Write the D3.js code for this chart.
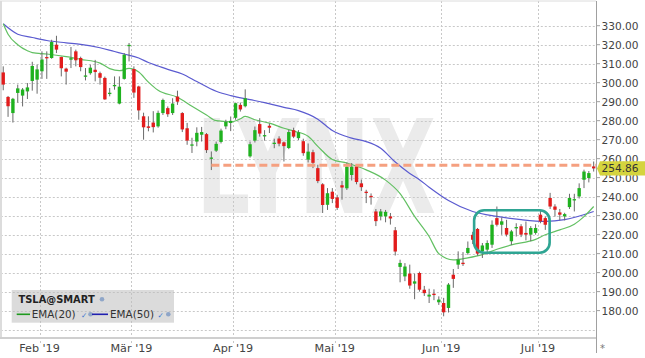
<!DOCTYPE html>
<html><head><meta charset="utf-8">
<script src="https://cdn.jsdelivr.net/npm/d3@7"></script>
<style>body{margin:0;background:#fff;} svg{display:block;font-family:"DejaVu Sans",Verdana,sans-serif;}</style>
</head><body>
<svg id="c" width="645" height="358"></svg>
<script>
// ---- data ----
const opens  = [305.4,292.5,284,294.6,293.2,295.4,300.9,301.6,306,313.5,313,320,313.5,307.4,312.1,316.5,313,303.3,305,306.8,305,302.5,294.2,298.2,289,302,319.3,307.2,298,282.3,277,279,277,284,286.6,284,292.7,284,276,267.1,269,272.6,272.9,260.1,264.2,268.8,277,278.8,281.5,288.3,287.6,261.2,269.5,278.2,271.8,277.3,267.9,270.6,268.6,265.6,275,270.8,269.2,259.5,263.4,255,246.5,235.7,242.6,239.6,246,244.4,251.4,255.9,247,242.6,240.4,232.2,229.6,229.6,229.6,222.3,203,198,199.5,194.2,199.8,191,187.4,188.9,184.4,184,181.4,198.9,204.2,205.2,210.3,219.9,223,211.2,212.1,214.7,228.7,225.2,223.5,216.5,223.3,224.4,220.9,220,220.9,230.5,228.7,239.3,234.8,231.7,229.6,234.5,238,240.1,248.9,249.8,255.9];
const highs  = [308.6,293,292,299,297.2,299.8,311,309.5,316.5,316.5,322.6,324.7,313.7,307.9,318.8,317.4,313.7,307.7,309.5,312,305.8,303.2,297.2,303.3,303.3,315.6,320.9,308.6,298.4,284.2,282.3,285,285.3,291.6,287.5,291.8,295.8,284.5,278.8,271,276.5,276.7,273.5,263.8,269,275.8,280.5,282.2,289.5,289.5,296.5,269,276.9,281.3,275,278.5,270.5,271.8,269,275.2,276.3,275,270.5,268,264.7,256.8,247.1,244.5,244.5,241,248.3,258,257.7,257,249,243.6,241.7,233.5,233.5,233,231.4,224,206.8,205,204.2,199.5,200.5,193,191.5,191.2,187.5,186.7,194.5,201.9,211.2,210.8,216.4,221.5,223.5,215.6,217,227.5,234.8,229,227.8,222.5,226,225.5,226.9,224.5,225.5,233.1,229.5,242,236,233.5,231.5,241.5,241.5,247,254.2,253.5,258.5];
const lows   = [296,282,279,289.5,287.5,291.4,295.8,294.2,302,302,312.6,315.6,303.3,299,307.7,308.6,306,301.2,304.2,300.7,299,291,292.8,296.3,288.6,301.6,311.2,292,280.5,270,274.4,273.8,276.3,283,282,283,288.3,274,267.3,263,266.5,269,263,254,263.5,268,275.5,274.5,280.5,284.8,287,260.5,268.5,271.6,269.5,273.5,265.5,266.5,258.5,265,270.8,269.8,261.5,258,255,247.1,231.4,233,236.6,233,238.4,243.5,248.5,246.5,243,236.6,235.8,224.5,227.5,226.5,225.3,209,194.9,195.5,191.5,186,190,187.7,184,185.5,183,177,179,192,201.9,203.5,209.4,215,208.9,207.7,209.5,213,224.3,219.9,219,214.5,219,218.7,217,216.5,220,226,222.5,233.5,229.5,227.5,227.5,233.5,232.2,239,244.5,247.5,253.2];
const closes = [299,287.6,291.5,297,296.4,297.5,308.8,307,312.2,312.9,321.4,317.4,307.6,305.8,312.9,311.8,308.2,303.8,307.9,305.6,302.6,291.2,294.7,298.8,297.9,314.7,319.9,294.8,285.4,276.5,276.2,276.6,284.1,290.9,283.4,289,290,275.4,269.5,267.5,273.6,274,264.5,260.6,267.8,274.8,279.3,279.9,289.2,285.9,291.8,267.6,275,273.2,272.4,276.3,268.4,267.9,266.6,274,271.6,273.9,262.9,263.7,257.8,248.2,235.6,241.8,238.8,234.1,244.8,255.8,255.8,247.7,245,241.9,239.7,227.1,232.2,232,228.5,211.1,205.1,203.2,193.2,195.4,191,189.2,188.4,188.2,185.8,179.1,193.7,196.7,206.8,204.5,213,217.3,210,214.3,215.6,225.2,225.2,227,220,221.7,224,220,220,223.5,223.5,227,225.2,234.8,233.1,230.5,230.8,239.3,238.7,244.5,253.2,252.4,254.86];

const ema20Idx = [0,1,3,5,6,9,13,16,20,22,24,26,28,30,32,36,39,42,44,47,49,50,52,55,58,60,63,65,68,71,75,79,82,85,88,90,93,96,99,102,105,110,112,115,118,120,122];
const ema20    = [331,325.5,320,316.8,315.8,315.1,313.7,312.3,310.3,307.4,306.3,307.5,305.6,300.3,296,292.3,287.6,283,280,279.4,281,282.3,280.5,278.7,276,274.5,271.8,266.5,259.6,257.7,254.1,248.7,241.6,229.6,219,210,206.7,207.8,209.5,212.3,214.6,217.5,219.9,222.5,225.5,229.5,234.8];
const ema50Idx = [0,3,6,9,13,16,20,23,25,28,30,32,34,37,40,44,47,51,54,58,61,65,68,72,75,78,81,84,86,88,92,97,102,107,112,116,122];
const ema50    = [331,325.5,323.8,322.2,321,320.2,318.4,316.4,315.1,313,310.6,308.8,307,304.6,300.6,295.5,293.2,291.1,289.5,287,285.3,280.8,274.8,270.8,269,265.5,258.2,252.2,248.9,245,238,232.2,229.6,227.9,227,227.9,232.2];

const monthIdx    = [8,27,48,69,91,111];
const monthLabels = ["Feb '19","Mär '19","Apr '19","Mai '19","Jun '19","Jul '19"];
const priceTicks  = [180,190,200,210,220,230,240,250,260,270,280,290,300,310,320,330];
const gridPrices  = [170,180,190,200,210,220,230,240,250,260,270,280,290,300,310,320,330];
const lastPrice = 254.86;
const resistance = 256.5;
const resistanceStart = 43;
const boxRange = [97.3, 112.9];   // candle index span of the consolidation box
const boxPrice = [210.5, 232.8];
const symbol = "TSLA@SMART";
const legendItems = ["EMA(20)","EMA(50)"];

// ---- chart ----
const svg = d3.select('#c');
const L = 0.8, R = 596.1, T = 1, B = 338;
const x = d3.scaleLinear().domain([-0.5,122.5]).range([L,R]);
const y = d3.scaleLinear().domain([170,330]).range([329.6,25.7]);
const step = x(1)-x(0);

const defs = svg.append('defs');
const f = defs.append('filter').attr('id','blur').attr('x','-10%').attr('y','-200%').attr('width','120%').attr('height','500%');
f.append('feGaussianBlur').attr('stdDeviation',1.3);

// watermark
svg.append('text').attr('x',196).attr('y',213).text('LYNX')
  .attr('font-family','DejaVu Sans').attr('font-weight','bold').attr('font-size',130)
  .attr('textLength',240).attr('lengthAdjust','spacingAndGlyphs').attr('fill','#ebebeb');

// grid
svg.append('g').selectAll('line').data(gridPrices).join('line')
  .attr('x1',L).attr('x2',R).attr('y1',d=>Math.round(y(d))+0.5).attr('y2',d=>Math.round(y(d))+0.5)
  .attr('stroke','#c8c8c8').attr('stroke-dasharray','2,2');
svg.append('g').selectAll('line').data(monthIdx).join('line')
  .attr('x1',d=>Math.round(x(d-0.5))+0.5).attr('x2',d=>Math.round(x(d-0.5))+0.5).attr('y1',T).attr('y2',343)
  .attr('stroke','#c8c8c8').attr('stroke-dasharray','2,2');

// frame
svg.append('line').attr('x1',0).attr('x2',R).attr('y1',1).attr('y2',1).attr('stroke','#dcdcdc');
svg.append('line').attr('x1',1).attr('x2',1).attr('y1',1).attr('y2',B).attr('stroke','#dcdcdc').attr('stroke-width',2);
svg.append('line').attr('x1',0).attr('x2',R).attr('y1',B).attr('y2',B).attr('stroke','#cfcfcf').attr('stroke-width',2);
svg.append('line').attr('x1',596.5).attr('x2',596.5).attr('y1',1).attr('y2',353).attr('stroke','#a0a0a0');

// EMA lines
const line = d3.line().x(d=>x(d[0])).y(d=>y(d[1])).curve(d3.curveMonotoneX);
svg.append('path').datum(ema50Idx.map((d,i)=>[d,ema50[i]])).attr('d',line)
  .attr('fill','none').attr('stroke','#5b5bd0').attr('stroke-width',1.2);
svg.append('path').datum(ema20Idx.map((d,i)=>[d,ema20[i]])).attr('d',line)
  .attr('fill','none').attr('stroke','#62c062').attr('stroke-width',1.2);

// candles
const idx = d3.range(closes.length);
const g = svg.append('g');
g.selectAll('line').data(idx).join('line')
  .attr('x1',i=>x(i)).attr('x2',i=>x(i)).attr('y1',i=>y(highs[i])).attr('y2',i=>y(lows[i]))
  .attr('stroke','#6a6a6a').attr('stroke-width',1);
const bw = step*0.7;
g.selectAll('rect').data(idx).join('rect')
  .attr('x',i=>x(i)-bw/2).attr('width',bw)
  .attr('y',i=>y(Math.max(opens[i],closes[i])))
  .attr('height',i=>Math.max(1.3,Math.abs(y(opens[i])-y(closes[i]))))
  .attr('fill',i=>closes[i]>=opens[i]?'#1fb21f':'#e21c1c');

// resistance line
const ry = y(resistance);
svg.append('line').attr('x1',x(resistanceStart)).attr('x2',R).attr('y1',ry+2.5).attr('y2',ry+2.5)
  .attr('stroke','#999').attr('stroke-width',3).attr('opacity',0.45).attr('filter','url(#blur)');
svg.append('line').attr('x1',x(resistanceStart)).attr('x2',R).attr('y1',ry).attr('y2',ry)
  .attr('stroke','#f5a080').attr('stroke-width',3).attr('stroke-dasharray','8,4');

// consolidation box
svg.append('rect').attr('x',x(boxRange[0])).attr('y',y(boxPrice[1]))
  .attr('width',x(boxRange[1])-x(boxRange[0])).attr('height',y(boxPrice[0])-y(boxPrice[1]))
  .attr('rx',10).attr('fill','none').attr('stroke','#2fa593').attr('stroke-width',2.6);

// right axis
const ax = svg.append('g');
ax.selectAll('line').data(priceTicks).join('line')
  .attr('x1',596).attr('x2',600).attr('y1',d=>y(d)).attr('y2',d=>y(d)).attr('stroke','#a0a0a0');
ax.selectAll('text').data(priceTicks).join('text')
  .attr('x',601.5).attr('y',d=>y(d)+4).text(d=>d.toFixed(2))
  .attr('font-size',10.6).attr('fill','#444');

// price label
const py = y(lastPrice);
svg.append('path').attr('d',`M597,${py} L600,${py-7.2} L645,${py-7.2} L645,${py+7.2} L600,${py+7.2} Z`)
  .attr('fill','#d5d43e');
svg.append('text').attr('x',601.5).attr('y',py+4).text(lastPrice.toFixed(2))
  .attr('font-size',10.6).attr('fill','#333');

// x axis labels
svg.append('g').selectAll('text').data(monthIdx).join('text')
  .attr('x',(d)=>x(d-0.5)).attr('y',352).attr('text-anchor','middle')
  .text((d,i)=>monthLabels[i]).attr('font-size',11.2).attr('fill','#444');
svg.append('text').attr('x',600).attr('y',352).text('*').attr('font-size',10).attr('fill','#777');

// legend
const lg = svg.append('g');
lg.append('rect').attr('x',11.7).attr('y',290).attr('width',162.3).attr('height',32.7)
  .attr('fill','#bdbdbd').attr('opacity',0.55);
lg.append('text').attr('x',18.5).attr('y',302.6).text(symbol)
  .attr('font-size',9.9).attr('font-weight','bold').attr('fill','#222');
lg.append('circle').attr('cx',102).attr('cy',299.3).attr('r',2.3).attr('fill','#8fa6c8');
lg.append('line').attr('x1',16.7).attr('x2',30).attr('y1',314.3).attr('y2',314.3).attr('stroke','#1f9a1f').attr('stroke-width',1.6);
lg.append('text').attr('x',31.7).attr('y',318.3).text(legendItems[0]).attr('font-size',10.4).attr('fill','#333');
lg.append('text').attr('x',81).attr('y',317.5).text('✓').attr('font-size',7.5).attr('fill','#3b78d0');
lg.append('circle').attr('cx',90.5).attr('cy',314.3).attr('r',2.3).attr('fill','#8fa6c8');
lg.append('line').attr('x1',92).attr('x2',108).attr('y1',314.3).attr('y2',314.3).attr('stroke','#2020b0').attr('stroke-width',1.6);
lg.append('text').attr('x',110).attr('y',318.3).text(legendItems[1]).attr('font-size',10.4).attr('fill','#333');
lg.append('text').attr('x',157.5).attr('y',317.5).text('✓').attr('font-size',7.5).attr('fill','#3b78d0');
lg.append('circle').attr('cx',168.3).attr('cy',314.3).attr('r',2.3).attr('fill','#8fa6c8');
</script>
</body></html>
